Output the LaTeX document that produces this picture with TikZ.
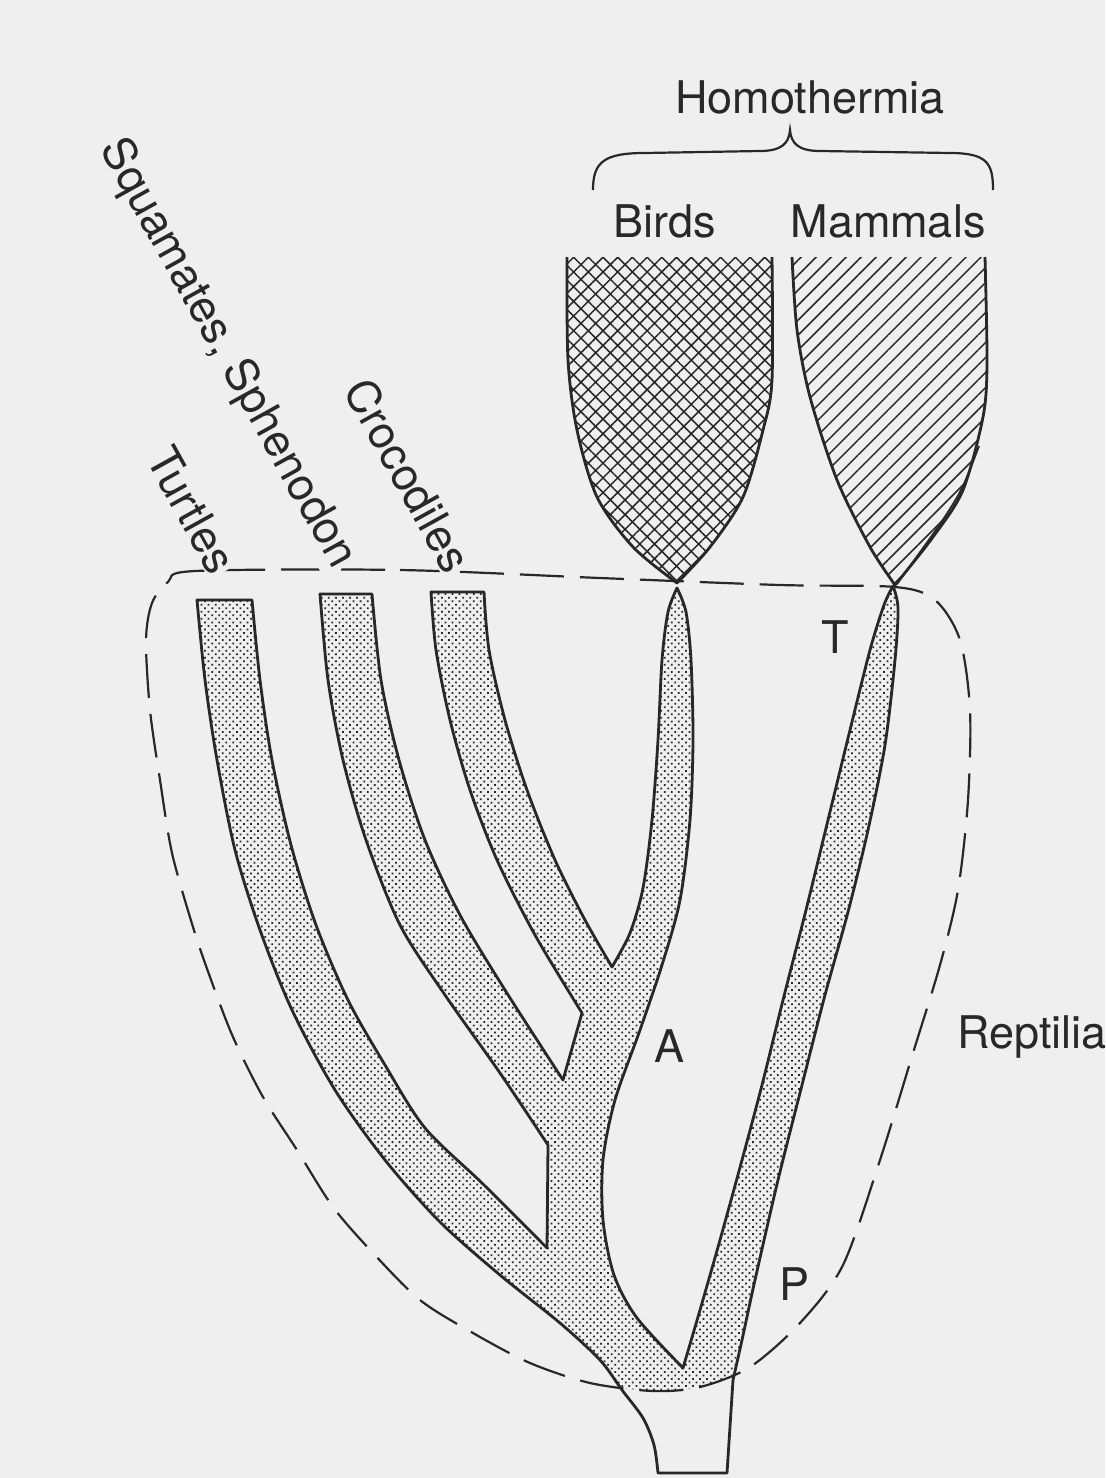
\documentclass[tikz,border=0pt]{standalone}
\usepackage{fontspec}
\setmainfont{TeX Gyre Heros}
\usepackage{tikz}
\usetikzlibrary{patterns.meta}
\definecolor{InkGray}{RGB}{40,40,40}
\definecolor{PaperGray}{RGB}{239,239,239}

% outline of the reptile tree, stem included
\newcommand{\treeoutline}{(658,1473)
 -- plot[smooth] coordinates {(658,1473) (654,1445) (643,1418) (622,1390) (600,1360) (560,1323) (500,1275) (440,1222) (385,1160) (335,1090) (292,1010) (260,930) (235,850) (217,760) (205,680) (197,600)}
 -- (252,600)
 -- plot[smooth] coordinates {(252,600) (260,680) (272,760) (291,845) (316,925) (348,1000) (385,1065) (425,1128) (483,1184) (547,1248)}
 -- (548,1145)
 -- plot[smooth] coordinates {(548,1145) (500,1073) (445,995) (400,925) (366,840) (343,760) (328,680) (320,594)}
 -- (372,594)
 -- plot[smooth] coordinates {(372,594) (381,680) (399,760) (425,840) (460,915) (505,990) (563,1080)}
 -- (582,1013)
 -- plot[smooth] coordinates {(582,1013) (535,935) (497,860) (470,790) (450,720) (436,650) (431,592)}
 -- (484,592)
 -- plot[smooth] coordinates {(484,592) (489,650) (505,720) (527,790) (555,860) (585,920) (612,967)}
 -- plot[smooth] coordinates {(612,967) (630,933) (643,888) (652,820) (658,740) (662,660) (668,612) (677,588)}
 -- plot[smooth] coordinates {(677,588) (686,612) (691,660) (693,740) (690,820) (680,900) (662,965) (640,1030) (615,1100) (603,1160) (603,1220) (614,1275) (637,1318) (683,1368)}
 -- plot[smooth] coordinates {(683,1368) (700,1310) (720,1240) (742,1160) (762,1085) (783,1000) (806,910) (828,820) (850,730) (870,650) (884,605) (893,586)}
 -- plot[smooth] coordinates {(893,586) (898,608) (895,660) (885,745) (868,830) (848,912) (825,995) (802,1085) (778,1180) (755,1280) (742,1340) (733,1380)}
 -- (727,1473) -- cycle}
% dashed Reptilia boundary
\newcommand{\reptiliaoutline}{plot[smooth cycle] coordinates {(195,571) (400,570) (600,578) (780,585) (895,587) (935,600) (960,640) (970,710) (968,800) (958,890) (940,965) (913,1053) (880,1160) (843,1265) (800,1323) (750,1367) (700,1387) (653,1391) (590,1383) (530,1363) (473,1333) (420,1300) (373,1253) (333,1207) (297,1150) (263,1097) (233,1037) (210,977) (193,927) (172,853) (160,780) (150,710) (146,640) (152,603) (168,582)}}
\newcommand{\birdsedge}{(567,257)
 -- plot[smooth] coordinates {(567,257) (568,360) (577,430) (597,497) (633,547) (677,583)}
 -- plot[smooth] coordinates {(677,583) (710,547) (743,497) (763,430) (772,380) (772,257)}}
\newcommand{\mammalsedge}{(792,257)
 -- plot[smooth] coordinates {(792,257) (797,330) (810,397) (837,480) (870,547) (895,585)}
 -- plot[smooth] coordinates {(895,585) (933,537) (963,490) (983,417) (987,363) (985,257)}}

\begin{document}
\begin{tikzpicture}[x=0.5pt,y=-0.5pt,
  branchline/.style={draw=InkGray,line width=1.4pt,line join=round},
  stipple/.style={pattern={Dots[distance=2.5pt,radius=0.62pt,angle=45]},pattern color=InkGray},
  crosshatch/.style={pattern={Hatch[distance=5.2pt,angle=45,line width=0.75pt]},pattern color=InkGray},
  singlehatch/.style={pattern={Lines[distance=5.3pt,angle=45,line width=0.75pt]},pattern color=InkGray},
  reptdash/.style={draw=InkGray,line width=1.1pt,dash pattern=on 22pt off 8pt},
  taxontext/.style={text=InkGray,font=\fontsize{22.5}{27}\selectfont,inner sep=1pt}]
\useasboundingbox (0,0) rectangle (1105,1478);
\fill[PaperGray] (0,0) rectangle (1105,1478);

% reptile tree
\begin{scope}
\clip \reptiliaoutline;
\fill[stipple] \treeoutline;
\end{scope}
\draw[branchline] \treeoutline;

% birds and mammals
\fill[crosshatch] \birdsedge -- cycle;
\draw[branchline] \birdsedge;
\fill[singlehatch] \mammalsedge -- cycle;
\draw[branchline] \mammalsedge;
\draw[branchline,line width=0.9pt] plot[smooth] coordinates {(979,446) (962,488) (940,524) (897,584)};

\draw[reptdash] \reptiliaoutline;

% Homothermia brace
\draw[InkGray,line width=1.1pt] (593,190) .. controls (593,162) and (604,153) .. (645,153)
  -- (760,151) .. controls (782,151) and (789,143) .. (790,130)
  .. controls (791,143) and (798,151) .. (820,151)
  -- (950,153) .. controls (988,153) and (993,164) .. (993,190);

\node[taxontext,anchor=base] (homothermia) at (810,113) {Homothermia};
\node[taxontext,anchor=base] (birds) at (665,237) {Birds};
\node[taxontext,anchor=base] (mammals) at (888,237) {Mammals};
\node[taxontext,rotate=-61,anchor=east,fill=PaperGray] (turtles) at (226,571) {Turtles};
\node[taxontext,rotate=-61,anchor=east,fill=PaperGray] (squamates) at (345,567) {Squamates, Sphenodon};
\node[taxontext,rotate=-61,anchor=east,fill=PaperGray] (crocodiles) at (461,570) {Crocodiles};
\node[taxontext,anchor=base] (labT) at (835,653) {T};
\node[taxontext,anchor=base] (labA) at (669,1062) {A};
\node[taxontext,anchor=base] (labP) at (794,1300) {P};
\node[taxontext,anchor=base west] (reptilia) at (955,1048) {Reptilia};
\end{tikzpicture}
\end{document}
